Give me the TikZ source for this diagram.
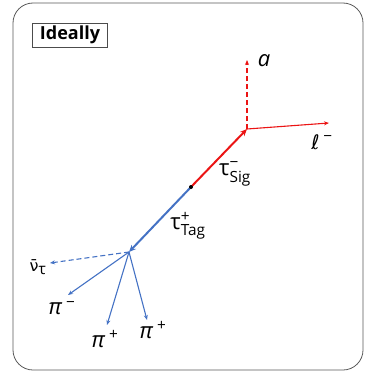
\documentclass[tikz,border=0pt]{standalone}
\usepackage{amsmath}
\usepackage{fontspec}
\setmainfont{Open Sans}
\newfontfamily\nufont{DejaVu Sans}
\usepackage{tikz}
\usetikzlibrary{arrows.meta,positioning}

\definecolor{tagblue}{RGB}{68,114,196}
\definecolor{sigred}{RGB}{235,20,20}

\begin{document}
\begin{tikzpicture}[x=1pt,y=-1pt,
  frame/.style={draw=black!65,rounded corners=20pt,line width=0.8pt},
  title/.style={draw=black!70,line width=1pt,inner sep=3pt,minimum width=75pt,minimum height=22pt,font=\fontsize{18}{20}\selectfont\bfseries},
  lbl/.style={font=\fontsize{22}{24}\selectfont,inner sep=1pt},
  sig/.style={-{Stealth[length=7pt,width=6pt]},sigred,line width=2pt},
  sigout/.style={-{Stealth[length=5pt,width=4pt]},sigred,line width=1.1pt},
  tag/.style={-{Stealth[length=7pt,width=6pt]},tagblue,line width=2pt},
  tagout/.style={-{Stealth[length=5pt,width=4pt]},tagblue,line width=1.1pt},
  dsh/.style={dash pattern=on 5pt off 3pt}
]
\useasboundingbox (0,0) rectangle (365,372);
\draw[frame] (13,3) rectangle (363,370);
\node[title] (ideal) at (70,35) {Ideally};

% production point and decay vertices
\coordinate (prod) at (191,187);
\coordinate (sigvtx) at (247,129);
\coordinate (tagvtx) at (129,252);
\coordinate (aend) at (247,60);
\coordinate (lepend) at (329,123);
\coordinate (nuend) at (50,263);
\coordinate (pimend) at (68,295);
\coordinate (piaend) at (107,325);
\coordinate (pibend) at (147,320);

% signal side
\draw[sig] (prod) -- (sigvtx);
\draw[sigout,dsh] (sigvtx) -- (aend);
\draw[sigout] (sigvtx) -- (lepend);
% tag side
\draw[tag] (prod) -- (tagvtx);
\draw[tagout,dsh] (tagvtx) -- (nuend);
\draw[tagout] (tagvtx) -- (pimend);
\draw[tagout] (tagvtx) -- (piaend);
\draw[tagout] (tagvtx) -- (pibend);
\fill (prod) circle (2pt);

% labels
\node[lbl] (alab) at (264,61) {\textit{a}};
\node[lbl] (leplab) at (322,142) {{\nufont\itshape\fontsize{20}{22}\selectfont ℓ}\,$^{\text{−}}$};
\node[lbl] (siglab) at (235,174) {τ$^{\text{−}}_{\text{Sig}}$};
\node[lbl] (taglab) at (188,226) {τ$^{\text{+}}_{\text{Tag}}$};
\node[lbl] (nulab) at (38,267) {{\nufont\fontsize{16}{18}\selectfont ν̄}$_{\text{τ}}$};
\node[lbl] (pimlab) at (62,308) {\textit{π}\,$^{\text{−}}$};
\node[lbl] (palab) at (105,339) {\textit{π}\,$^{\text{+}}$};
\node[lbl] (pblab) at (153,330) {\textit{π}\,$^{\text{+}}$};
\end{tikzpicture}
\end{document}
